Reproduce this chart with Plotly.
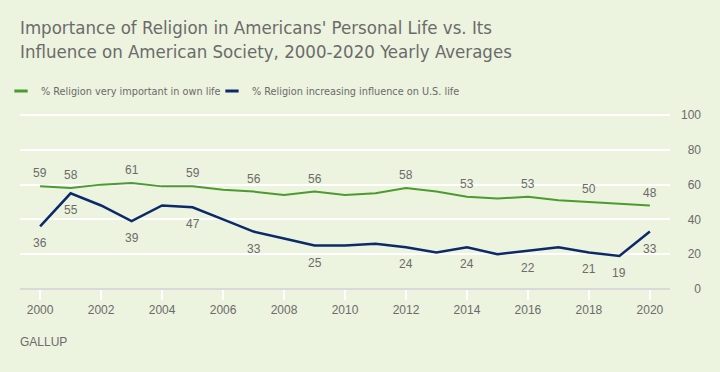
import plotly.graph_objects as go

years = list(range(2000, 2021))
very_important = [59, 58, 60, 61, 59, 59, 57, 56, 54, 56, 54, 55, 58, 56, 53, 52, 53, 51, 50, 49, 48]
increasing_influence = [36, 55, 48, 39, 48, 47, 40, 33, 29, 25, 25, 26, 24, 21, 24, 20, 22, 24, 21, 19, 33]
green_label_years = [2000, 2001, 2003, 2005, 2007, 2009, 2012, 2014, 2016, 2018, 2020]
blue_label_years = [2000, 2001, 2003, 2005, 2007, 2009, 2012, 2014, 2016, 2018, 2019, 2020]
series_names = ["% Religion very important in own life", "% Religion increasing influence on U.S. life"]
y_ticks = [0, 20, 40, 60, 80, 100]
title_lines = ["Importance of Religion in Americans' Personal Life vs. Its",
               "Influence on American Society, 2000-2020 Yearly Averages"]

GREEN = "#4b9b2e"
BLUE = "#0c2a6a"
BG = "#ecf3de"
TXT = "#6b6b6b"
NARROW = "DejaVu Sans Condensed, Liberation Sans Narrow, sans-serif"
REG = "Liberation Sans, Arial, sans-serif"

W, H = 720, 372
left, top, bottom_px, right_px = 20, 114, 289, 701
ph = bottom_px - top
pw = right_px - left

fig = go.Figure()
fig.add_trace(go.Scatter(x=years, y=very_important, mode="lines",
                         line=dict(color=GREEN, width=2), showlegend=False, hoverinfo="skip"))
fig.add_trace(go.Scatter(x=years, y=increasing_influence, mode="lines",
                         line=dict(color=BLUE, width=2.5), showlegend=False, hoverinfo="skip"))
# legend entries (one legend box each)
for name, col, lg in zip(series_names, [GREEN, BLUE], ["legend", "legend2"]):
    fig.add_trace(go.Scatter(x=[None], y=[None], mode="markers", name=name, legend=lg,
                             marker=dict(symbol="line-ew-open", size=9.5, color=col,
                                         line=dict(color=col, width=3))))
# axis carrier for right-aligned y labels
fig.add_trace(go.Scatter(x=[years[0]], y=[0], yaxis="y2", mode="markers",
                         marker=dict(opacity=0), showlegend=False, hoverinfo="skip"))

for yr, v in zip(years, very_important):
    if yr in green_label_years:
        fig.add_annotation(x=yr, y=v, text=str(v), showarrow=False, yshift=13,
                           font=dict(family=REG, size=12, color=TXT))
for yr, v in zip(years, increasing_influence):
    if yr in blue_label_years:
        fig.add_annotation(x=yr, y=v, text=str(v), showarrow=False, yshift=-17,
                           font=dict(family=REG, size=12, color=TXT))

fig.add_annotation(text="<br>".join(title_lines), xref="paper", yref="paper",
                   x=0, xshift=-2, y=(bottom_px - 39.5) / ph, xanchor="left", yanchor="middle",
                   align="left", showarrow=False,
                   font=dict(family=NARROW, size=18.5, color=TXT))
fig.add_annotation(text="GALLUP", xref="paper", yref="paper", x=0, xshift=-2,
                   y=(bottom_px - 342) / ph,
                   xanchor="left", yanchor="middle", showarrow=False,
                   font=dict(family=REG, size=12, color=TXT))

legend_common = dict(orientation="h", xanchor="left", yanchor="middle",
                     xref="container", yref="container",
                     y=1 - 91 / H,
                     font=dict(family=NARROW, size=10.8, color=TXT),
                     bgcolor="rgba(0,0,0,0)", itemclick=False, itemdoubleclick=False)

fig.update_layout(
    width=W, height=H,
    margin=dict(l=left, r=W - right_px, t=top, b=H - bottom_px, autoexpand=False),
    paper_bgcolor=BG, plot_bgcolor=BG,
    legend=dict(x=1 / W, **legend_common),
    legend2=dict(x=212 / W, **legend_common),
    xaxis=dict(range=[1999.34, 2020.66], domain=[0, (670 - left) / pw],
               tick0=2000, dtick=2, ticks="outside", ticklen=10, tickwidth=2,
               tickcolor="white", showgrid=False, zeroline=False, showline=False,
               tickfont=dict(family=REG, size=12, color=TXT)),
    yaxis=dict(range=[0, 100.6], tickvals=y_ticks, showticklabels=False,
               gridcolor="white", gridwidth=2, zeroline=True,
               zerolinecolor="#d9d9d9", zerolinewidth=2, ticks=""),
    yaxis2=dict(range=[0, 100.6], overlaying="y", anchor="free", position=1, side="left",
                tickvals=y_ticks, showgrid=False, zeroline=False, showline=False, ticks="",
                tickfont=dict(family=REG, size=12, color=TXT)),
    showlegend=True,
)

fig.write_html("out.html", config={"displayModeBar": False},
               post_script="document.body.style.margin='0';")
